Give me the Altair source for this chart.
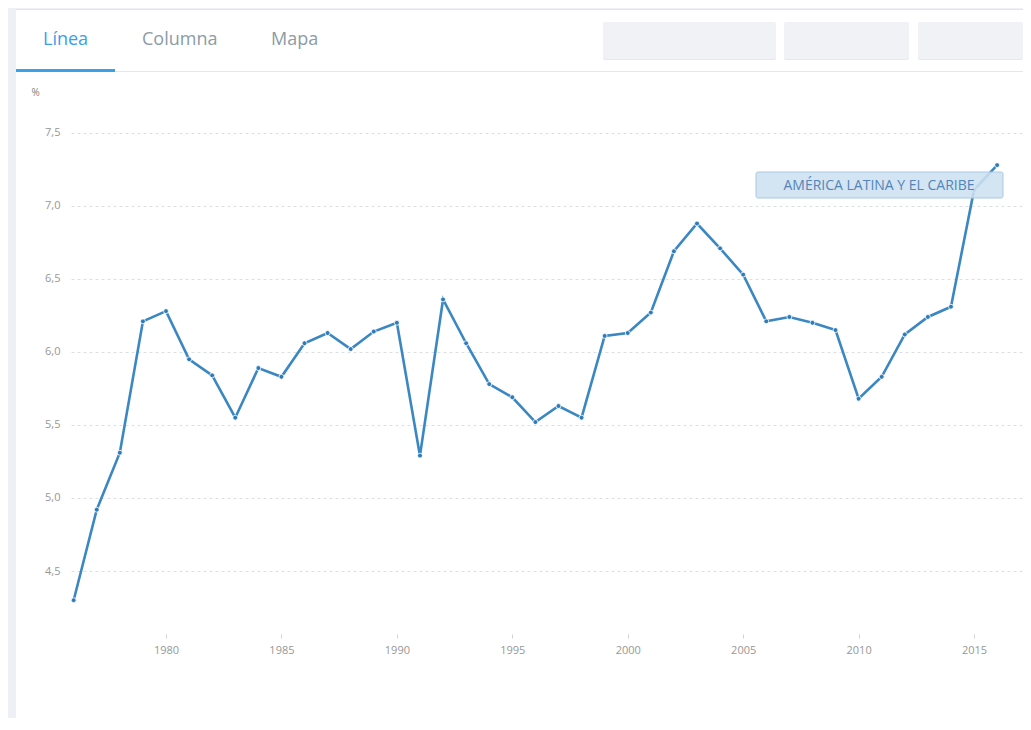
import altair as alt
import pandas as pd

years = list(range(1976, 2017))
values = [4.30, 4.92, 5.31, 6.21, 6.28, 5.95, 5.84, 5.55, 5.89, 5.83,
          6.06, 6.13, 6.02, 6.14, 6.20, 5.29, 6.36, 6.06, 5.78, 5.69,
          5.52, 5.63, 5.55, 6.11, 6.13, 6.27, 6.69, 6.88, 6.71, 6.53,
          6.21, 6.24, 6.20, 6.15, 5.68, 5.83, 6.12, 6.24, 6.31, 7.11,
          7.28]
x_ticks = [1980, 1985, 1990, 1995, 2000, 2005, 2010, 2015]
y_ticks = [4.5, 5.0, 5.5, 6.0, 6.5, 7.0, 7.5]
tabs = ["Línea", "Columna", "Mapa"]
series_label = "AMÉRICA LATINA Y EL CARIBE"
unit_label = "%"

df = pd.DataFrame({"year": years, "value": values})

W, H = 952, 514
BLUE = "#3a87c2"
FONT = "Open Sans"

x_enc = alt.X("year:Q",
              scale=alt.Scale(domain=[1975.885, 2017.12], nice=False, zero=False),
              axis=alt.Axis(values=x_ticks, format="d", title=None, domain=False,
                            ticks=True, tickSize=4, tickColor="#cfd3d8",
                            labelColor="#979797", labelFontSize=11, labelPadding=6,
                            grid=False, labelFont=FONT))
y_enc = alt.Y("value:Q",
              scale=alt.Scale(domain=[4.0685, 7.589], nice=False, zero=False),
              axis=alt.Axis(values=y_ticks, format=".1f",
                            labelExpr="replace(datum.label, '.', ',')",
                            title=unit_label, titleAngle=0, titleX=-40, titleY=-28,
                            titleAlign="left", titleBaseline="middle",
                            titleFontSize=10, titleFontWeight="normal",
                            titleColor="#808080", titleFont=FONT,
                            domain=False, ticks=False, labelPadding=11,
                            labelColor="#979797", labelFontSize=11, labelFont=FONT,
                            grid=True, gridDash=[3, 3], gridColor="#dcdfe3",
                            gridWidth=1))

line = alt.Chart(df).mark_line(color=BLUE, strokeWidth=2.6).encode(x=x_enc, y=y_enc)
pts = alt.Chart(df).mark_circle(size=24, color="#2f7bb8", opacity=1,
                                stroke="white", strokeWidth=0.8).encode(x="year:Q", y="value:Q")

one = alt.Data(values=[{}])


def rect(x1, x2, y1, y2, color, **kw):
    return alt.Chart(one).mark_rect(color=color, **kw).encode(
        x=alt.value(x1), x2=alt.value(x2), y=alt.value(y1), y2=alt.value(y2))


def label(txt, x, y, color, size, align="left", weight="normal"):
    return alt.Chart(one).mark_text(color=color, fontSize=size, font=FONT, align=align,
                                    baseline="middle", fontWeight=weight).encode(
        x=alt.value(x), y=alt.value(y), text=alt.value(txt))


# page coords -> chart coords: cx = px - 71, cy = py - 120
deco = [
    rect(-63, -55, -112, 610, "#eef0f5"),        # left strip
    rect(-63, 952, -112, -111, "#eef0f5"),       # top strip
    rect(-55, 952, -111, -110, "#e2e5ea"),       # card top border
    rect(-55, 952, -49, -48, "#e3e6ea"),         # tab separator
    rect(-55, 44, -51, -48, "#3aa0e8"),          # active tab underline
    rect(532, 705, -97, -60, "#e6e8ec", cornerRadius=2),
    rect(532, 705, -98, -61, "#f0f2f6", cornerRadius=2),
    rect(713, 838, -97, -60, "#e6e8ec", cornerRadius=2),
    rect(713, 838, -98, -61, "#f0f2f6", cornerRadius=2),
    rect(847, 952, -97, -60, "#e6e8ec", cornerRadius=2),
    rect(847, 952, -98, -61, "#f0f2f6", cornerRadius=2),
    label(tabs[0], -28, -80, "#3a9fe8", 18),
    label(tabs[1], 71, -80, "#8c9ba6", 18),
    label(tabs[2], 200, -80, "#8c9ba6", 18),
]

box = alt.Chart(one).mark_rect(fill="#cde0f0", fillOpacity=0.88, stroke="#a9c9e3",
                               strokeWidth=1, cornerRadius=2).encode(
    x=alt.value(685), x2=alt.value(932), y=alt.value(52), y2=alt.value(78))
box_text = label(series_label, 808, 65.5, "#5485b8", 14, align="center")

chart = alt.layer(*deco, line, pts, box, box_text).properties(
    width=W, height=H,
    autosize=alt.AutoSizeParams(type="none"),
    padding={"left": 63, "top": 112, "right": 0, "bottom": 84},
    background="white",
).configure(font=FONT, view=alt.ViewConfig(strokeWidth=0, stroke="transparent"))

chart.save("out.html", embed_options={"renderer": "svg", "actions": False})
